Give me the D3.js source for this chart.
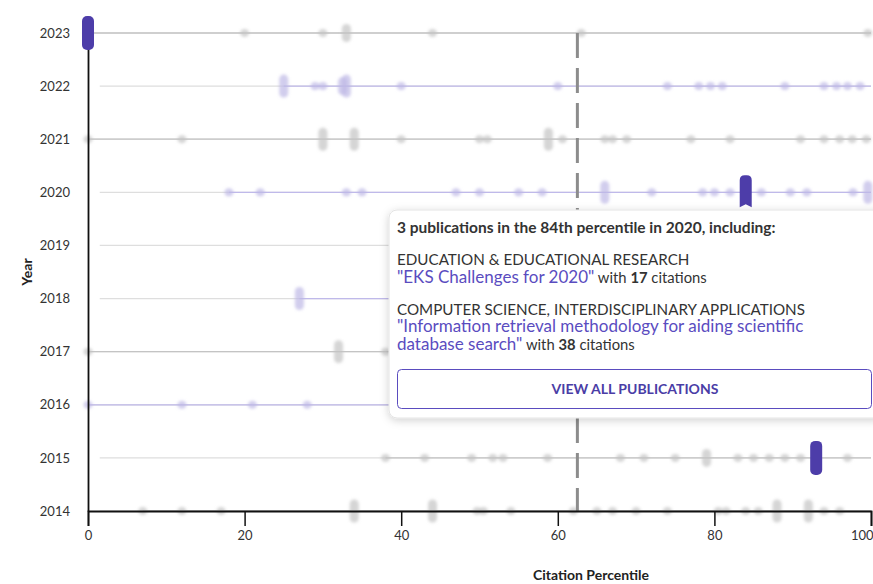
<!DOCTYPE html>
<html><head><meta charset="utf-8">
<script src="https://cdn.jsdelivr.net/npm/d3@7"></script>
<style>
body{margin:0;background:#fff;}
svg{font-family:Lato,"Noto Sans",sans-serif;}
</style></head><body>
<svg id="chart" width="873" height="584"></svg>
<script>
// ---------- DATA ----------
const years = [2023, 2022, 2021, 2020, 2019, 2018, 2017, 2016, 2015, 2014];
const xTicks = [0, 20, 40, 60, 80, 100];
// publications per year: [citation percentile, number of publications at that point]
const pubs2023 = [[0,1],[20,1],[30,1],[33,2],[44,1],[63,1],[99.6,1]];
const pubs2022 = [[25,3],[29,1],[30,1],[32.5,2],[33,3],[40,1],[60,1],[74,1],[78,1],[79.5,1],[81,1],[89,1],[94,1],[95.6,1],[97,1],[98.6,1]];
const pubs2021 = [[0,1],[12,1],[30,3],[34,3],[40,1],[50,1],[51,1],[58.8,3],[60.6,1],[66,1],[67,1],[68.8,1],[77,1],[82,1],[91,1],[94,1],[96,1],[97.6,1],[99.4,1]];
const pubs2020 = [[18,1],[22,1],[33,1],[35,1],[47,1],[50,1],[55,1],[58,1],[66,3],[72,1],[78.5,1],[80,1],[82,1],[86,1],[89.7,1],[91.8,1],[97.7,1],[99.6,3]];
const pubs2019 = [];
const pubs2018 = [[27,3]];
const pubs2017 = [[0,1],[32,3],[38,1]];
const pubs2016 = [[0,1],[12,1],[21,1],[28,1]];
const pubs2015 = [[38,1],[43,1],[49,1],[51.7,1],[53,1],[58.7,1],[68,1],[71,1],[75,1],[79,2],[83,1],[85,1],[87,1],[89,1],[91,1],[97,1]];
const pubs2014 = [[7,1],[12,1],[17,1],[34,3],[44,3],[49.7,1],[50.5,1],[54,1],[62,1],[65,1],[67,1],[70,1],[74,1],[80.5,1],[81.5,1],[84,1],[85.6,1],[88,3],[92,3],[94,1],[96,1]];
const pubsByYear = {2023:pubs2023,2022:pubs2022,2021:pubs2021,2020:pubs2020,2019:pubs2019,2018:pubs2018,2017:pubs2017,2016:pubs2016,2015:pubs2015,2014:pubs2014};
// highlighted (selected) percentile per year
const highlightYears = [2023, 2020, 2015];
const highlightPcts  = [0, 84, 93];
const averagePercentile = 62.5;
// tooltip contents
const tipTitle = ["3 publications in the 84th percentile in 2020, including:"];
const tipCategories = ["EDUCATION & EDUCATIONAL RESEARCH", "COMPUTER SCIENCE, INTERDISCIPLINARY APPLICATIONS"];
const tipPubTitles = [["\"EKS Challenges for 2020\""], ["\"Information retrieval methodology for aiding scientific", "database search\""]];
const tipCitations = [17, 38];
const tipButton = "VIEW ALL PUBLICATIONS";
const xLabel = "Citation Percentile";
const yLabel = "Year";

// ---------- STYLE ----------
const lavenderRows = new Set([2022, 2020, 2018, 2016]);
const purple = "#4d3da9";
const linkPurple = "#5a4cbf";

const svg = d3.select("#chart");
const x = d3.scaleLinear().domain([0, 100]).range([88, 871]);
const y = d3.scaleLinear().domain([2014, 2023]).range([511, 33]);

const defs = svg.append("defs");
defs.append("filter").attr("id", "blur").attr("x", "-50%").attr("y", "-50%").attr("width", "200%").attr("height", "200%")
  .append("feGaussianBlur").attr("stdDeviation", 1.6);
const sh = defs.append("filter").attr("id", "shadow").attr("x", "-10%").attr("y", "-10%").attr("width", "120%").attr("height", "130%");
sh.append("feDropShadow").attr("dx", 0).attr("dy", 2).attr("stdDeviation", 4).attr("flood-color", "#000").attr("flood-opacity", 0.18);

// rows
const rows = svg.append("g");
years.forEach(yr => {
  const pts = pubsByYear[yr];
  const hasZero = pts.some(d => d[0] === 0) || highlightYears.some((h, i) => h === yr && highlightPcts[i] === 0);
  const start = hasZero ? 0 : 1.5;
  rows.append("line").attr("x1", x(start)).attr("x2", x(100)).attr("y1", y(yr)).attr("y2", y(yr))
    .attr("stroke", "#dedede").attr("stroke-width", 1.2);
  if (pts.length) {
    const first = d3.min(pts, d => d[0]);
    rows.append("line").attr("x1", x(first)).attr("x2", x(100)).attr("y1", y(yr)).attr("y2", y(yr))
      .attr("stroke", lavenderRows.has(yr) ? "#bfb9ea" : "#c4c4c4").attr("stroke-width", 1.3);
  }
  const g = rows.append("g").attr("filter", "url(#blur)");
  g.selectAll("rect").data(pts).join("rect")
    .attr("x", d => x(d[0]) - 4.5)
    .attr("width", 9)
    .attr("y", d => y(yr) - (d[1] > 1 ? 4 + d[1] * 2.5 : 4))
    .attr("height", d => d[1] > 1 ? 8 + d[1] * 5 : 8)
    .attr("rx", 4.5)
    .attr("fill", lavenderRows.has(yr) ? "#bdb8e6" : "#c3c3c3")
    .attr("opacity", 0.7);
});

// average dashed line
svg.append("line").attr("x1", x(averagePercentile)).attr("x2", x(averagePercentile))
  .attr("y1", y(2023)).attr("y2", y(2014))
  .attr("stroke", "#8c8c8c").attr("stroke-width", 3).attr("stroke-dasharray", "25 10");

// axes
const xAxis = svg.append("g").attr("transform", `translate(0,${y(2014)})`)
  .call(d3.axisBottom(x).tickValues(xTicks).tickSize(15).tickPadding(5).tickFormat(d3.format("d")));
xAxis.select(".domain").attr("stroke", "#111").attr("stroke-width", 1.8);
xAxis.selectAll(".tick line").attr("stroke", "#111").attr("stroke-width", 1.5);
xAxis.selectAll("text").attr("font-size", 13).attr("fill", "#333").attr("font-family", "Lato");
xAxis.selectAll(".tick text").filter(d => d === 100).attr("text-anchor", "end").attr("dx", 2);

const yAxis = svg.append("g").attr("transform", `translate(${x(0)},0)`)
  .call(d3.axisLeft(y).tickValues(years).tickSize(0).tickPadding(18).tickFormat(d3.format("d")));
yAxis.select(".domain").attr("stroke", "#111").attr("stroke-width", 1.8);
yAxis.selectAll("text").attr("font-size", 13).attr("fill", "#333").attr("font-family", "Lato");

svg.append("text").attr("x", 591).attr("y", 580).attr("text-anchor", "middle")
  .attr("font-size", 14).attr("font-weight", 700).attr("fill", "#222").text(xLabel);
svg.append("text").attr("transform", "translate(32,272) rotate(-90)").attr("text-anchor", "middle")
  .attr("font-size", 14).attr("font-weight", 700).attr("fill", "#222").text(yLabel);

// highlighted markers
highlightYears.forEach((yr, i) => {
  const cx = x(highlightPcts[i]), cy = y(yr);
  const w = 12, h = 34, r = 5;
  const l = cx - w / 2, t = cy - h / 2, b = cy + h / 2;
  if (i === 1) {
    const p = d3.path();
    p.moveTo(l + r, t); p.lineTo(l + w - r, t); p.quadraticCurveTo(l + w, t, l + w, t + r);
    p.lineTo(l + w, b - 2); p.lineTo(cx, b - 5); p.lineTo(l, b - 2);
    p.lineTo(l, t + r); p.quadraticCurveTo(l, t, l + r, t); p.closePath();
    svg.append("path").attr("d", p.toString()).attr("fill", purple);
  } else {
    svg.append("rect").attr("x", l).attr("y", t).attr("width", w).attr("height", h).attr("rx", 5).attr("fill", purple);
  }
});

// tooltip
const tip = svg.append("g");
tip.append("rect").attr("x", 389).attr("y", 210).attr("width", 494).attr("height", 208).attr("rx", 8)
  .attr("fill", "#fff").attr("stroke", "#e4e4e4").attr("filter", "url(#shadow)");
tip.append("text").attr("x", 397).attr("y", 233).attr("font-size", 15.5).attr("font-weight", 700).attr("fill", "#333").text(tipTitle[0]);
const catY = [265, 315];
const titleY = [283, 332];
tipCategories.forEach((c, i) => {
  tip.append("text").attr("x", 397).attr("y", catY[i]).attr("font-size", 15.2).attr("fill", "#333").text(c);
  tipPubTitles[i].forEach((line, j) => {
    const t = tip.append("text").attr("x", 397).attr("y", titleY[i] + j * 17.5);
    t.append("tspan").attr("font-size", 17).attr("fill", linkPurple).text(line);
    if (j === tipPubTitles[i].length - 1) {
      t.append("tspan").attr("font-size", 14.8).attr("fill", "#333").text(" with ");
      t.append("tspan").attr("font-size", 14.8).attr("font-weight", 700).attr("fill", "#333").text(tipCitations[i]);
      t.append("tspan").attr("font-size", 14.8).attr("fill", "#333").text(" citations");
    }
  });
});
tip.append("rect").attr("x", 397.5).attr("y", 369.5).attr("width", 474).attr("height", 39).attr("rx", 4)
  .attr("fill", "#fff").attr("stroke", linkPurple).attr("stroke-width", 1);
tip.append("text").attr("x", 635).attr("y", 394).attr("text-anchor", "middle").attr("font-size", 14)
  .attr("font-weight", 700).attr("fill", "#4a3da6").text(tipButton);
</script>
</body></html>
